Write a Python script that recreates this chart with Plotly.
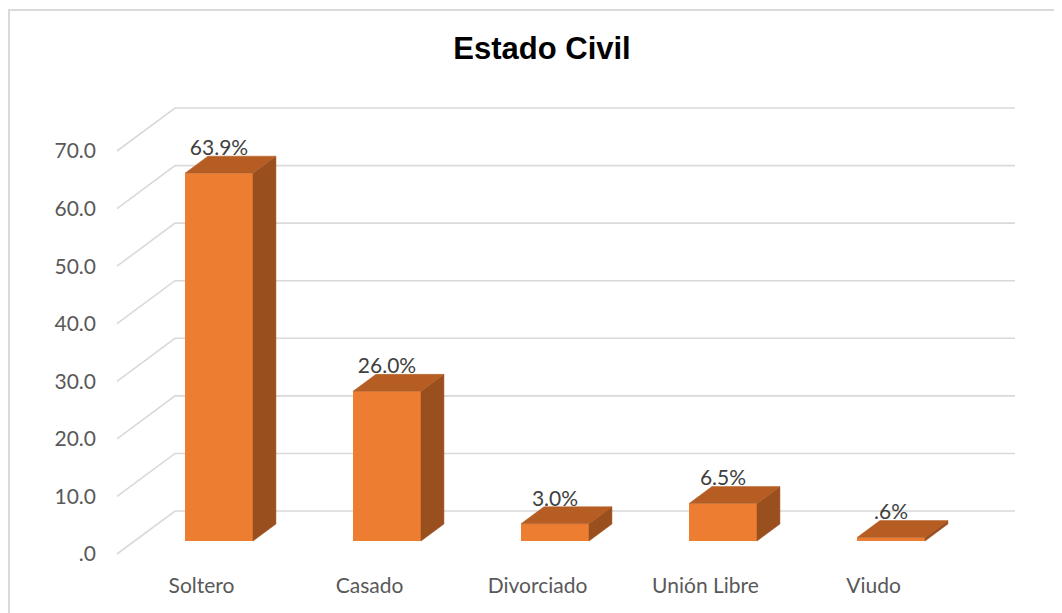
import plotly.graph_objects as go

# ---- data ----
categories = ["Soltero", "Casado", "Divorciado", "Unión Libre", "Viudo"]
values = [63.9, 26.0, 3.0, 6.5, 0.6]
y_ticks = [0, 10, 20, 30, 40, 50, 60, 70]
y_tick_labels = [".0", "10.0", "20.0", "30.0", "40.0", "50.0", "60.0", "70.0"]


def pct_label(v):
    s = f"{v:.1f}%"
    return s[1:] if s.startswith("0") else s


data_labels = [pct_label(v) for v in values]

# ---- geometry (oblique projection in data units) ----
OFF = 8  # page body margin
W, H = 1062, 613
L, R, T, B = 110 - OFF, 20, 60 - OFF, 50
PX_PER_CAT = 168.0
PX_PER_UNIT = 5.757
X0_PX = 201.5 - OFF
Y0_PX = 554.0 - OFF
WALL_DX = 58 / PX_PER_CAT
WALL_DY = 43 / PX_PER_UNIT
WALL_LEFT = (117 - OFF - X0_PX) / PX_PER_CAT
WALL_RIGHT = (1015 - OFF - X0_PX) / PX_PER_CAT
BAR_F0 = 0.302
BAR_FD = 0.395
BAR_W = 68 / PX_PER_CAT
LABEL_DROP = 4 / PX_PER_UNIT

xrange = [(L - X0_PX) / PX_PER_CAT, (W - R - X0_PX) / PX_PER_CAT]
yrange = [(Y0_PX - (H - B)) / PX_PER_UNIT, (Y0_PX - T) / PX_PER_UNIT]

FRONT = "#ED7D31"
TOP = "#B55D23"
SIDE = "#9A4F1E"
GRID = "#D9D9D9"

fig = go.Figure()

# gridlines (left diagonal + back wall)
shapes = []
for v in y_ticks:
    x1, y1 = WALL_LEFT + WALL_DX, v + WALL_DY
    shapes.append(dict(
        type="path", xref="x", yref="y", layer="below",
        path=f"M {WALL_LEFT},{v} L {x1},{y1} L {WALL_RIGHT},{y1}",
        line=dict(color=GRID, width=1.6),
    ))

# border
pw, ph = W - L - R, H - T - B
shapes.append(dict(
    type="rect", xref="paper", yref="paper",
    x0=(9 - OFF - L) / pw, x1=(W + 5 - L) / pw,
    y0=((H - B) - (H + 5)) / ph, y1=((H - B) - (10 - OFF)) / ph,
    line=dict(color=GRID, width=2), fillcolor="rgba(0,0,0,0)",
))

base = BAR_F0 * WALL_DY
cx = [i + BAR_F0 * WALL_DX for i in range(len(values))]
bdx = BAR_FD * WALL_DX
bdy = BAR_FD * WALL_DY

# front faces
fig.add_trace(go.Bar(
    x=cx, y=values, base=base, width=BAR_W,
    marker=dict(color=FRONT, line=dict(width=0)),
    hoverinfo="skip",
))

# top and side faces
tx, ty, sx, sy = [], [], [], []
for c, v in zip(cx, values):
    xl, xr = c - BAR_W / 2, c + BAR_W / 2
    t = base + v
    tx += [xl, xr, xr + bdx, xl + bdx, xl, None]
    ty += [t, t, t + bdy, t + bdy, t, None]
    sx += [xr, xr, xr + bdx, xr + bdx, xr, None]
    sy += [base, t, t + bdy, base + bdy, base, None]

fig.add_trace(go.Scatter(x=sx, y=sy, mode="lines", fill="toself",
                         fillcolor=SIDE, line=dict(color=SIDE, width=0.5),
                         hoverinfo="skip"))
fig.add_trace(go.Scatter(x=tx, y=ty, mode="lines", fill="toself",
                         fillcolor=TOP, line=dict(color=TOP, width=0.5),
                         hoverinfo="skip"))

# data labels
fig.add_trace(go.Scatter(
    x=cx, y=[base + v + bdy - LABEL_DROP for v in values], mode="text",
    text=data_labels, textposition="top center",
    textfont=dict(family="Lato", size=21, color="#404040"),
    hoverinfo="skip", cliponaxis=False,
))

fig.update_layout(
    width=W, height=H,
    margin=dict(l=L, r=R, t=T, b=B, autoexpand=False),
    paper_bgcolor="white", plot_bgcolor="white",
    showlegend=False,
    shapes=shapes,
    title=dict(text="<b>Estado Civil</b>", x=(542 - OFF) / W,
               y=1 - (48.5 - OFF) / H,
               xref="container", yref="container",
               xanchor="center", yanchor="middle",
               font=dict(family="Liberation Sans", size=31, color="#000000")),
    xaxis=dict(range=xrange, type="linear", showgrid=False, zeroline=False,
               showline=False, ticks="", tickvals=list(range(len(categories))),
               ticktext=categories, ticklabelstandoff=0,
               tickfont=dict(family="Lato", size=21, color="#595959"),
               fixedrange=True),
    yaxis=dict(range=yrange, showgrid=False, zeroline=False, showline=False,
               ticks="", tickvals=y_ticks, ticktext=y_tick_labels,
               ticklabelstandoff=13,
               tickfont=dict(family="Lato", size=21, color="#595959"),
               fixedrange=True),
)

fig.write_html("out.html")
